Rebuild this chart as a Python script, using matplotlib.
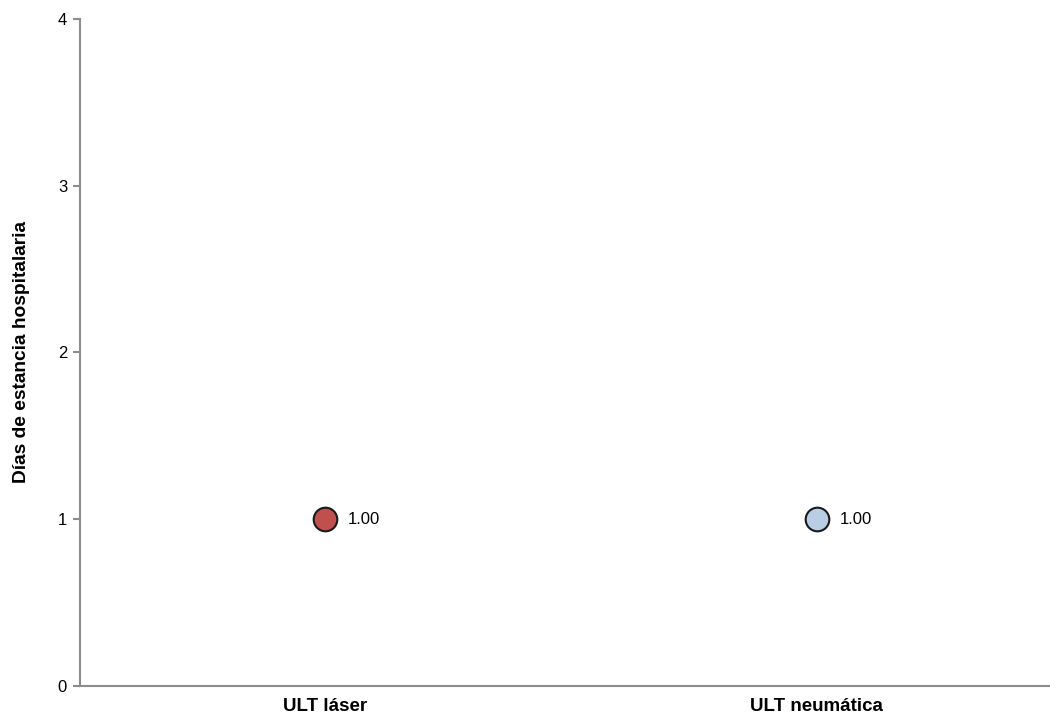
import matplotlib.pyplot as plt

plt.rcParams['font.family'] = ['Liberation Sans', 'DejaVu Sans']

# Data
groups = ['ULT láser', 'ULT neumática']
values = [1.00, 1.00]
colors = ['#c0504d', '#b9cde5']
y_ticks = [0, 1, 2, 3, 4]

fig = plt.figure(figsize=(10.5, 7.19), dpi=100)
ax = fig.add_axes([0.0762, 0.0459, 0.9238, 0.9277])

for i, (v, c) in enumerate(zip(values, colors)):
    ax.plot(i, v, 'o', markersize=17, markerfacecolor=c,
            markeredgecolor='#1a1a1a', markeredgewidth=1.5, zorder=3)
    ax.annotate(f'{v:.2f}', (i, v), xytext=(16.5, 0), textcoords='offset points',
                va='center', ha='left', fontsize=12)

ax.set_xlim(-0.498, 1.474)
ax.set_ylim(0, 4)
ax.set_yticks(y_ticks)
ax.set_xticks(range(len(groups)))
ax.set_xticklabels(groups, fontsize=13.5, fontweight='bold')
ax.set_ylabel('Días de estancia hospitalaria', fontsize=13.8, fontweight='bold', labelpad=20)

for s in ['top', 'right']:
    ax.spines[s].set_visible(False)
for s in ['left', 'bottom']:
    ax.spines[s].set_color('#8c8c8c')
    ax.spines[s].set_linewidth(1.5)
ax.tick_params(axis='y', colors='#8c8c8c', labelcolor='black', length=5, width=1.5, labelsize=12, pad=4.3)
ax.tick_params(axis='x', length=0, pad=9)

fig.savefig('out.png', dpi=100)
